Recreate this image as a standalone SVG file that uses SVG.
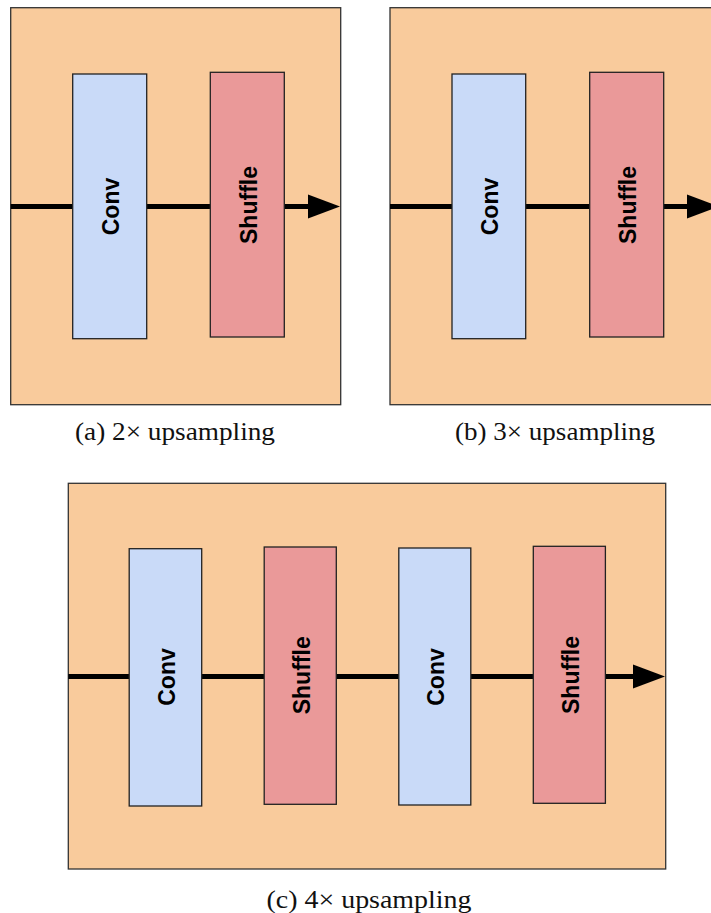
<svg xmlns="http://www.w3.org/2000/svg" width="711" height="913" viewBox="0 0 711 913">
<style>
.panel{fill:#f9cb9c;stroke:#333;stroke-width:1.3}
.conv{fill:#c9daf8;stroke:#222;stroke-width:1.3}
.shuf{fill:#ea9999;stroke:#222;stroke-width:1.3}
.lbl{font-family:"Liberation Sans",Arial,sans-serif;font-weight:bold;font-size:23px;fill:#000;text-anchor:middle}
.cap{font-family:"Liberation Serif","Times New Roman",serif;font-size:25px;fill:#111;text-anchor:middle}
.wire{stroke:#000;stroke-width:5;fill:none}
</style>
<defs>
<marker id="ah" markerUnits="userSpaceOnUse" markerWidth="32" markerHeight="24" refX="2" refY="12" orient="auto" overflow="visible">
<path d="M0,0 L32,12 L0,24 Z" fill="#000"/>
</marker>
</defs>
<rect class="panel" x="10.7" y="7.7" width="330" height="397"/>
<rect class="panel" x="390" y="7.7" width="330" height="397"/>
<rect class="panel" x="68.3" y="483.3" width="597.4" height="385.7"/>
<g id="connectors">
<path class="wire" d="M10.7,206.5 H72.7"/>
<path class="wire" d="M146.7,206.5 H210.3"/>
<path class="wire" d="M284.3,206.5 H310" marker-end="url(#ah)"/>
<path class="wire" d="M390,206.5 H452"/>
<path class="wire" d="M525.7,206.5 H589.7"/>
<path class="wire" d="M663.7,206.5 H689" marker-end="url(#ah)"/>
<path class="wire" d="M68.3,676.5 H129.2"/>
<path class="wire" d="M201.7,676.5 H264.2"/>
<path class="wire" d="M336.3,676.5 H398.8"/>
<path class="wire" d="M470.8,676.5 H533.3"/>
<path class="wire" d="M605.4,676.5 H635" marker-end="url(#ah)"/>
</g>
<g id="a-conv"><rect class="conv" x="72.7" y="74" width="74" height="264.7"/><text class="lbl" transform="translate(109.7,206.5) rotate(-90)" y="9.4">Conv</text></g>
<g id="a-shuffle"><rect class="shuf" x="210.3" y="72.3" width="74" height="264.7"/><text class="lbl" transform="translate(247.3,205) rotate(-90)" y="9.4">Shuffle</text></g>
<g id="b-conv"><rect class="conv" x="452" y="74" width="73.7" height="264.7"/><text class="lbl" transform="translate(488.8,206.5) rotate(-90)" y="9.4">Conv</text></g>
<g id="b-shuffle"><rect class="shuf" x="589.7" y="72.3" width="74" height="264.7"/><text class="lbl" transform="translate(626.7,205) rotate(-90)" y="9.4">Shuffle</text></g>
<g id="c-conv1"><rect class="conv" x="129.2" y="548.7" width="72.5" height="257.3"/><text class="lbl" transform="translate(165.4,677) rotate(-90)" y="9.4">Conv</text></g>
<g id="c-shuffle1"><rect class="shuf" x="264.2" y="547" width="72.1" height="257.3"/><text class="lbl" transform="translate(300.2,675.3) rotate(-90)" y="9.4">Shuffle</text></g>
<g id="c-conv2"><rect class="conv" x="398.8" y="548" width="72" height="257"/><text class="lbl" transform="translate(434.8,677) rotate(-90)" y="9.4">Conv</text></g>
<g id="c-shuffle2"><rect class="shuf" x="533.3" y="546.3" width="72.1" height="257"/><text class="lbl" transform="translate(569.4,675) rotate(-90)" y="9.4">Shuffle</text></g>
<text class="cap" x="175" y="439.5" textLength="200" lengthAdjust="spacingAndGlyphs">(a) 2× upsampling</text>
<text class="cap" x="555" y="439.5" textLength="200" lengthAdjust="spacingAndGlyphs">(b) 3× upsampling</text>
<text class="cap" x="369" y="908.3" textLength="205" lengthAdjust="spacingAndGlyphs">(c) 4× upsampling</text>
</svg>
